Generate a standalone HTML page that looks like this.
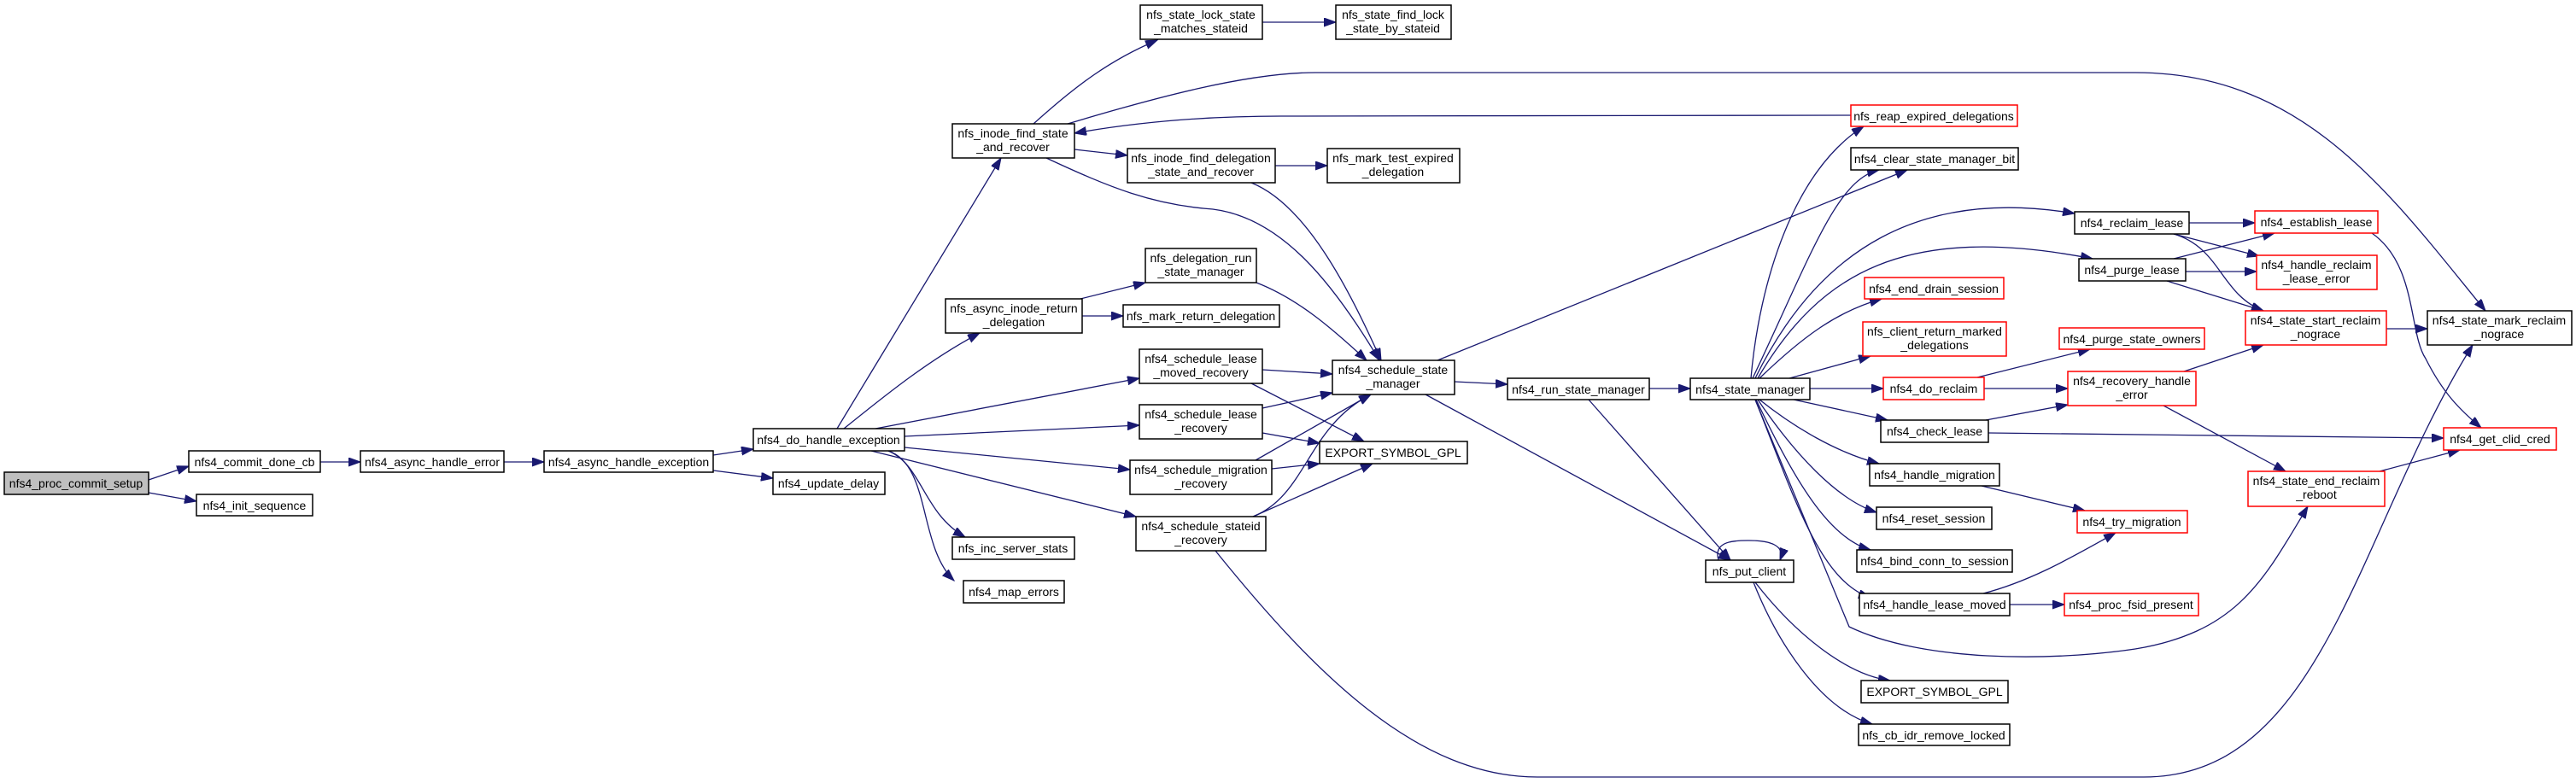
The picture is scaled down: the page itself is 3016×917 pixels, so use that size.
<!DOCTYPE html>
<html><head><meta charset="utf-8"><style>
html,body{margin:0;padding:0;background:#fff;}
svg{display:block;}
text{font-family:"Liberation Sans",sans-serif;font-size:14px;fill:#000;text-anchor:middle;}
.n{fill:#fff;stroke:#000;stroke-width:1.5;}
.r{fill:#fff;stroke:#f00;stroke-width:1.5;}
.g{fill:#bfbfbf;stroke:#000;stroke-width:1.5;}
.e{fill:none;stroke:#191970;stroke-width:1.3;marker-end:url(#a);}
</style></head><body>
<svg width="3016" height="917" viewBox="0 0 3016 917" xmlns="http://www.w3.org/2000/svg">
<defs><marker id="a" markerUnits="userSpaceOnUse" markerWidth="16" markerHeight="12" refX="14" refY="5" orient="auto"><path d="M0,0 L14,5 L0,10 z" fill="#191970" stroke="#191970"/></marker></defs>
<!-- edges -->
<path class="e" d="M174,562 L221,546"/>
<path class="e" d="M174,577 L230,587"/>
<path class="e" d="M375,541 L422,541"/>
<path class="e" d="M590,541 L637,541"/>
<path class="e" d="M835,533 L882,526"/>
<path class="e" d="M835,551 L905,560"/>
<path class="e" d="M980,502 L1172,185"/>
<path class="e" d="M988,502 C1040,460 1090,420 1147,390"/>
<path class="e" d="M1025,502 L1334,443"/>
<path class="e" d="M1059,511 L1334,498"/>
<path class="e" d="M1059,524 L1323,550"/>
<path class="e" d="M1020,528 L1330,605"/>
<path class="e" d="M1040,528 C1080,545 1080,600 1130,629"/>
<path class="e" d="M1040,528 C1090,545 1075,640 1117,680"/>
<path class="e" d="M1210,145 C1260,100 1300,70 1355,47"/>
<path class="e" d="M1478,26 L1564,26"/>
<path class="e" d="M1493,194 L1554,194"/>
<path class="e" d="M1250,145 C1350,115 1460,85 1540,85 L2500,85 C2700,85 2800,230 2910,364"/>
<path class="e" d="M2167,135 L1500,136 C1400,136 1320,145 1258,156"/>
<path class="e" d="M1258,175 L1320,182"/>
<path class="e" d="M1225,185 C1300,220 1350,240 1420,245 C1500,255 1560,330 1615,422"/>
<path class="e" d="M1465,214 C1530,240 1580,340 1617,422"/>
<path class="e" d="M1265,350 L1341,331"/>
<path class="e" d="M1267,370 L1315,370"/>
<path class="e" d="M1471,331 C1520,350 1560,385 1600,422"/>
<path class="e" d="M1478,433 L1560,438"/>
<path class="e" d="M1465,449 L1597,517"/>
<path class="e" d="M1478,478 L1560,460"/>
<path class="e" d="M1478,507 L1545,519"/>
<path class="e" d="M1470,539 L1605,462"/>
<path class="e" d="M1489,549 L1545,543"/>
<path class="e" d="M1467,605 C1530,580 1530,500 1605,462"/>
<path class="e" d="M1467,605 L1607,543"/>
<path class="e" d="M1423,645 C1540,790 1660,910 1800,910 L2510,910 C2720,910 2760,620 2895,404"/>
<path class="e" d="M1683,422 L2233,199"/>
<path class="e" d="M1703,447 L1765,450"/>
<path class="e" d="M1669,462 L2026,656"/>
<path class="e" d="M1931,455 L1979,455"/>
<path class="e" d="M1860,468 L2026,656"/>
<path class="e" d="M2012,656 C2005,632 2035,633 2048,633 C2075,633 2090,640 2084,656"/>
<path class="e" d="M2055,682 C2100,740 2160,790 2213,797"/>
<path class="e" d="M2053,682 C2080,750 2130,830 2192,848"/>
<path class="e" d="M2050,443 C2060,330 2100,200 2182,148"/>
<path class="e" d="M2052,443 C2120,300 2150,210 2200,199"/>
<path class="e" d="M2055,443 C2130,290 2250,220 2429,250"/>
<path class="e" d="M2058,443 C2130,320 2230,260 2450,303"/>
<path class="e" d="M2060,443 C2110,395 2150,365 2203,350"/>
<path class="e" d="M2095,443 L2190,417"/>
<path class="e" d="M2119,455 L2205,455"/>
<path class="e" d="M2100,468 L2210,492"/>
<path class="e" d="M2060,468 C2100,500 2150,530 2200,543"/>
<path class="e" d="M2058,468 C2100,530 2150,585 2197,600"/>
<path class="e" d="M2056,468 C2100,560 2140,630 2190,644"/>
<path class="e" d="M2055,468 C2100,580 2130,680 2190,700"/>
<path class="e" d="M2055,468 L2165,734 C2250,775 2400,775 2500,760 C2620,740 2650,680 2702,593"/>
<path class="e" d="M2563,261 L2640,261"/>
<path class="e" d="M2545,274 L2645,300"/>
<path class="e" d="M2545,274 C2600,290 2600,345 2650,364"/>
<path class="e" d="M2545,303 L2663,273"/>
<path class="e" d="M2559,318 L2642,318"/>
<path class="e" d="M2537,329 L2650,364"/>
<path class="e" d="M2777,273 C2830,310 2820,390 2840,420 C2860,460 2880,480 2905,501"/>
<path class="e" d="M2794,385 L2842,385"/>
<path class="e" d="M2315,442 L2447,409"/>
<path class="e" d="M2323,455 L2421,455"/>
<path class="e" d="M2557,435 L2650,404"/>
<path class="e" d="M2533,475 L2676,552"/>
<path class="e" d="M2325,492 L2421,474"/>
<path class="e" d="M2328,507 L2861,513"/>
<path class="e" d="M2786,552 L2880,527"/>
<path class="e" d="M2320,569 L2441,598"/>
<path class="e" d="M2322,695 C2380,680 2430,650 2477,624"/>
<path class="e" d="M2353,708 L2417,708"/>
<!-- nodes -->
<rect class="g" x="5" y="553" width="169" height="26"/><text x="89" y="571">nfs4_proc_commit_setup</text>
<rect class="n" x="221" y="528" width="154" height="25"/><text x="298" y="546">nfs4_commit_done_cb</text>
<rect class="n" x="230" y="579" width="136" height="25"/><text x="298" y="597">nfs4_init_sequence</text>
<rect class="n" x="422" y="528" width="168" height="25"/><text x="506" y="546">nfs4_async_handle_error</text>
<rect class="n" x="637" y="528" width="198" height="25"/><text x="736" y="546">nfs4_async_handle_exception</text>
<rect class="n" x="882" y="502" width="177" height="26"/><text x="970" y="520">nfs4_do_handle_exception</text>
<rect class="n" x="905" y="553" width="131" height="26"/><text x="970" y="571">nfs4_update_delay</text>
<rect class="n" x="1335" y="6" width="143" height="40"/><text x="1406" y="22">nfs_state_lock_state</text><text x="1406" y="38">_matches_stateid</text>
<rect class="n" x="1564" y="6" width="135" height="40"/><text x="1631" y="22">nfs_state_find_lock</text><text x="1631" y="38">_state_by_stateid</text>
<rect class="n" x="1115" y="145" width="143" height="40"/><text x="1186" y="161">nfs_inode_find_state</text><text x="1186" y="177">_and_recover</text>
<rect class="n" x="1320" y="174" width="173" height="40"/><text x="1406" y="190">nfs_inode_find_delegation</text><text x="1406" y="206">_state_and_recover</text>
<rect class="n" x="1554" y="174" width="155" height="40"/><text x="1631" y="190">nfs_mark_test_expired</text><text x="1631" y="206">_delegation</text>
<rect class="n" x="1341" y="291" width="130" height="40"/><text x="1406" y="307">nfs_delegation_run</text><text x="1406" y="323">_state_manager</text>
<rect class="n" x="1107" y="350" width="160" height="40"/><text x="1187" y="366">nfs_async_inode_return</text><text x="1187" y="382">_delegation</text>
<rect class="n" x="1315" y="357" width="183" height="26"/><text x="1406" y="375">nfs_mark_return_delegation</text>
<rect class="n" x="1334" y="409" width="144" height="40"/><text x="1406" y="425">nfs4_schedule_lease</text><text x="1406" y="441">_moved_recovery</text>
<rect class="n" x="1560" y="422" width="143" height="40"/><text x="1631" y="438">nfs4_schedule_state</text><text x="1631" y="454">_manager</text>
<rect class="n" x="1334" y="474" width="144" height="40"/><text x="1406" y="490">nfs4_schedule_lease</text><text x="1406" y="506">_recovery</text>
<rect class="n" x="1545" y="517" width="173" height="26"/><text x="1631" y="535">EXPORT_SYMBOL_GPL</text>
<rect class="n" x="1323" y="539" width="166" height="40"/><text x="1406" y="555">nfs4_schedule_migration</text><text x="1406" y="571">_recovery</text>
<rect class="n" x="1330" y="605" width="152" height="40"/><text x="1406" y="621">nfs4_schedule_stateid</text><text x="1406" y="637">_recovery</text>
<rect class="n" x="1115" y="629" width="143" height="26"/><text x="1186" y="647">nfs_inc_server_stats</text>
<rect class="n" x="1128" y="680" width="118" height="26"/><text x="1187" y="698">nfs4_map_errors</text>
<rect class="n" x="1765" y="443" width="166" height="25"/><text x="1848" y="461">nfs4_run_state_manager</text>
<rect class="n" x="1979" y="443" width="140" height="25"/><text x="2049" y="461">nfs4_state_manager</text>
<rect class="n" x="1997" y="656" width="103" height="26"/><text x="2048" y="674">nfs_put_client</text>
<rect class="r" x="2167" y="123" width="195" height="25"/><text x="2264" y="141">nfs_reap_expired_delegations</text>
<rect class="n" x="2167" y="173" width="196" height="26"/><text x="2265" y="191">nfs4_clear_state_manager_bit</text>
<rect class="n" x="2429" y="248" width="134" height="26"/><text x="2496" y="266">nfs4_reclaim_lease</text>
<rect class="r" x="2640" y="247" width="144" height="26"/><text x="2712" y="265">nfs4_establish_lease</text>
<rect class="r" x="2642" y="299" width="141" height="40"/><text x="2712" y="315">nfs4_handle_reclaim</text><text x="2712" y="331">_lease_error</text>
<rect class="n" x="2434" y="303" width="125" height="26"/><text x="2496" y="321">nfs4_purge_lease</text>
<rect class="r" x="2183" y="325" width="163" height="25"/><text x="2264" y="343">nfs4_end_drain_session</text>
<rect class="r" x="2181" y="377" width="168" height="40"/><text x="2265" y="393">nfs_client_return_marked</text><text x="2265" y="409">_delegations</text>
<rect class="r" x="2629" y="364" width="165" height="40"/><text x="2711" y="380">nfs4_state_start_reclaim</text><text x="2711" y="396">_nograce</text>
<rect class="n" x="2842" y="364" width="169" height="40"/><text x="2926" y="380">nfs4_state_mark_reclaim</text><text x="2926" y="396">_nograce</text>
<rect class="r" x="2411" y="384" width="170" height="25"/><text x="2496" y="402">nfs4_purge_state_owners</text>
<rect class="r" x="2205" y="442" width="118" height="26"/><text x="2264" y="460">nfs4_do_reclaim</text>
<rect class="r" x="2421" y="435" width="150" height="40"/><text x="2496" y="451">nfs4_recovery_handle</text><text x="2496" y="467">_error</text>
<rect class="n" x="2202" y="492" width="126" height="26"/><text x="2265" y="510">nfs4_check_lease</text>
<rect class="r" x="2861" y="501" width="132" height="26"/><text x="2927" y="519">nfs4_get_clid_cred</text>
<rect class="n" x="2189" y="543" width="152" height="26"/><text x="2265" y="561">nfs4_handle_migration</text>
<rect class="r" x="2632" y="552" width="160" height="41"/><text x="2712" y="568">nfs4_state_end_reclaim</text><text x="2712" y="584">_reboot</text>
<rect class="n" x="2197" y="594" width="135" height="26"/><text x="2264" y="612">nfs4_reset_session</text>
<rect class="r" x="2432" y="598" width="129" height="26"/><text x="2496" y="616">nfs4_try_migration</text>
<rect class="n" x="2174" y="644" width="182" height="26"/><text x="2265" y="662">nfs4_bind_conn_to_session</text>
<rect class="n" x="2177" y="695" width="176" height="26"/><text x="2265" y="713">nfs4_handle_lease_moved</text>
<rect class="r" x="2417" y="695" width="157" height="26"/><text x="2495" y="713">nfs4_proc_fsid_present</text>
<rect class="n" x="2179" y="797" width="172" height="26"/><text x="2265" y="815">EXPORT_SYMBOL_GPL</text>
<rect class="n" x="2176" y="848" width="177" height="25"/><text x="2264" y="866">nfs_cb_idr_remove_locked</text>
</svg>
</body></html>
